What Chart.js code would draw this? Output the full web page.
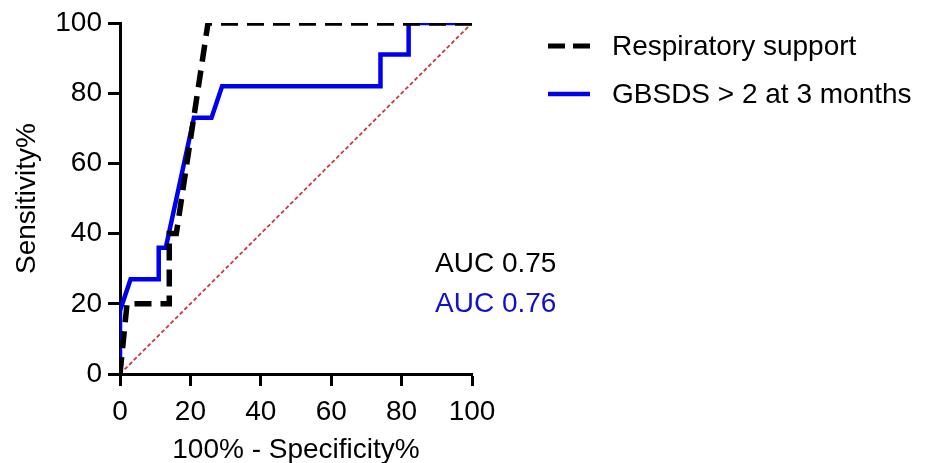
<!DOCTYPE html>
<html>
<head>
<meta charset="utf-8">
<script src="https://cdn.jsdelivr.net/npm/chart.js@4"></script>
<style>
  body { margin: 0; background: #fff; }
  #wrap { width: 925px; height: 463px; }
</style>
</head>
<body>
<div id="wrap"><canvas id="chart" width="925" height="463"></canvas></div>
<script>
// Respiratory support ROC curve
const respX = [0, 2, 14, 14, 16, 25, 100];
const respY = [0, 20, 20, 40, 40, 100, 100];
// GBSDS > 2 at 3 months ROC curve
const gbsX = [0, 0, 3, 11, 11, 13, 21, 26, 29, 74, 74, 82, 82, 100];
const gbsY = [0, 18, 27, 27, 36, 36, 73, 73, 82, 82, 91, 91, 100, 100];
// reference line
const refX = [0, 100];
const refY = [0, 100];

const xTicks = [0, 20, 40, 60, 80, 100];
const yTicks = [0, 20, 40, 60, 80, 100];
const aucLabels = ['AUC 0.75', 'AUC 0.76'];
const seriesNames = ['Respiratory support', 'GBSDS > 2 at 3 months'];

const BLUE = '#0000f0';
const FONT = '"Liberation Sans", Arial, sans-serif';

const toPoints = (xs, ys) => xs.map((x, i) => ({ x: x, y: ys[i] }));

const sideText = {
    id: 'sideText',
    afterDraw(chart) {
        const c = chart.ctx;
        c.save();
        // legend
        c.font = '28px ' + FONT;
        c.textBaseline = 'middle';
        c.lineCap = 'butt';
        c.strokeStyle = '#000';
        c.lineWidth = 5;
        c.setLineDash([17, 8]);
        c.beginPath(); c.moveTo(548, 46); c.lineTo(590, 46); c.stroke();
        c.setLineDash([]);
        c.strokeStyle = BLUE;
        c.lineWidth = 4.5;
        c.beginPath(); c.moveTo(548, 94); c.lineTo(590, 94); c.stroke();
        c.fillStyle = '#000';
        c.fillText(seriesNames[0], 612, 47);
        c.fillText(seriesNames[1], 612, 95);
        // AUC labels
        c.fillStyle = '#000';
        c.fillText(aucLabels[0], 435, 264);
        c.fillStyle = '#1111cc';
        c.fillText(aucLabels[1], 435, 304);
        c.restore();
    }
};

const ctx = document.getElementById('chart').getContext('2d');
new Chart(ctx, {
    type: 'scatter',
    data: {
        datasets: [{
            label: seriesNames[0],
            data: toPoints(respX, respY),
            showLine: true,
            borderColor: '#000',
            borderWidth: 5.5,
            borderDash: [17, 9],
            pointRadius: 0,
            order: 0
        }, {
            label: seriesNames[1],
            data: toPoints(gbsX, gbsY),
            showLine: true,
            borderColor: BLUE,
            borderWidth: 4.5,
            pointRadius: 0,
            order: 1
        }, {
            label: 'reference',
            data: toPoints(refX, refY),
            showLine: true,
            borderColor: '#d03838',
            borderWidth: 1.8,
            borderDash: [4, 2.5],
            pointRadius: 0,
            order: 2
        }]
    },
    options: {
        responsive: false,
        animation: false,
        layout: {
            padding: { top: 23, right: 453, left: 10, bottom: 0 }
        },
        plugins: {
            legend: { display: false },
            tooltip: { enabled: false }
        },
        scales: {
            x: {
                type: 'linear',
                min: 0,
                max: 100,
                afterBuildTicks: s => { s.ticks = xTicks.map(v => ({ value: v })); },
                afterFit: s => { s.height = 89; },
                grid: {
                    drawOnChartArea: false,
                    drawTicks: true,
                    tickLength: 12,
                    tickWidth: 3,
                    tickColor: '#000'
                },
                border: { display: true, width: 3, color: '#000' },
                ticks: { color: '#000', font: { size: 28, family: FONT }, padding: 9 },
                title: {
                    display: true,
                    text: '100% - Specificity%',
                    color: '#000',
                    font: { size: 28, family: FONT },
                    padding: { top: 0, bottom: -4 }
                }
            },
            y: {
                min: 0,
                max: 100,
                afterBuildTicks: s => { s.ticks = yTicks.map(v => ({ value: v })); },
                afterFit: s => { s.width = 110; },
                grid: {
                    drawOnChartArea: false,
                    drawTicks: true,
                    tickLength: 12,
                    tickWidth: 3,
                    tickColor: '#000'
                },
                border: { display: true, width: 3, color: '#000' },
                ticks: { color: '#000', font: { size: 28, family: FONT }, padding: 6 },
                title: {
                    display: true,
                    text: 'Sensitivity%',
                    color: '#000',
                    font: { size: 28, family: FONT },
                    padding: { top: 0, bottom: 0 }
                }
            }
        }
    },
    plugins: [sideText]
});
</script>
</body>
</html>
